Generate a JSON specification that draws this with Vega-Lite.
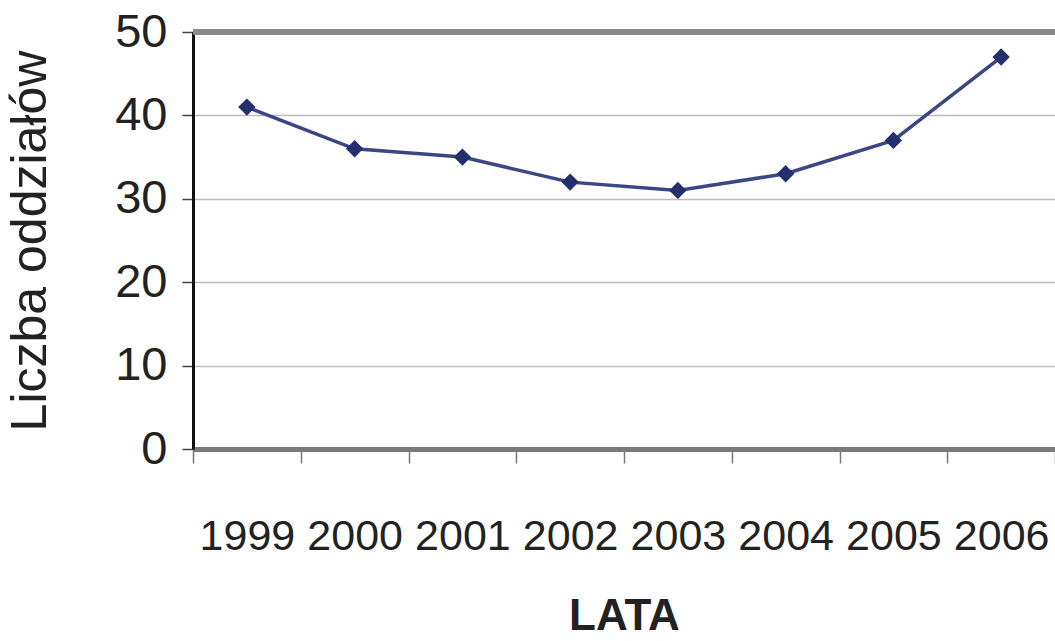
{
  "$schema": "https://vega.github.io/schema/vega-lite/v6.json",
  "width": 862,
  "height": 417,
  "autosize": {"type": "none"},
  "padding": {"left": 193, "top": 32, "right": 0, "bottom": 192},
  "background": "white",
  "config": {"view": {"stroke": null}, "font": "Liberation Sans"},
  "data": {"values": [
    {"rok": "1999", "liczba": 41},
    {"rok": "2000", "liczba": 36},
    {"rok": "2001", "liczba": 35},
    {"rok": "2002", "liczba": 32},
    {"rok": "2003", "liczba": 31},
    {"rok": "2004", "liczba": 33},
    {"rok": "2005", "liczba": 37},
    {"rok": "2006", "liczba": 47}
  ]},
  "layer": [
    {
      "mark": {"type": "rule", "color": "#8a8a8a", "strokeWidth": 5},
      "encoding": {"y": {"datum": 50, "type": "quantitative", "scale": {"domain": [0, 50]}}}
    },
    {
      "mark": {"type": "line", "color": "#3a4785", "strokeWidth": 3.5, "interpolate": "linear"},
      "encoding": {
        "x": {"field": "rok", "type": "ordinal", "scale": {"paddingInner": 0, "paddingOuter": 0},
          "axis": {"title": "LATA", "titleFont": "Liberation Sans", "titleFontSize": 44, "titleFontWeight": "bold", "titleColor": "#222",
            "titleBaseline": "alphabetic", "titleY": 180,
            "labelFont": "Liberation Sans", "labelFontSize": 43, "labelColor": "#222", "labelAngle": 0, "labelPadding": 86, "labelBaseline": "alphabetic",
            "domainColor": "#7a7a7a", "domainWidth": 5, "tickBand": "extent", "tickColor": "#777", "tickSize": 14, "tickWidth": 1.5, "grid": false}},
        "y": {"field": "liczba", "type": "quantitative", "scale": {"domain": [0, 50]},
          "axis": {"title": "Liczba oddziałów", "titleFont": "Liberation Sans", "titleFontSize": 50, "titleFontWeight": "normal", "titleColor": "#222",
            "titleX": -138, "titleBaseline": "bottom",
            "values": [0, 10, 20, 30, 40, 50], "labelFont": "Liberation Sans", "labelFontSize": 47, "labelColor": "#222", "labelPadding": 15,
            "domainColor": "#111", "domainWidth": 3, "tickColor": "#444", "tickSize": 11, "tickWidth": 1.5,
            "grid": true, "gridColor": "#bdbdbd", "gridWidth": 1.5}}
      }
    },
    {
      "mark": {"type": "point", "shape": "diamond", "filled": true, "color": "#24306e", "size": 300, "opacity": 1},
      "encoding": {
        "x": {"field": "rok", "type": "ordinal"},
        "y": {"field": "liczba", "type": "quantitative"}
      }
    }
  ]
}
